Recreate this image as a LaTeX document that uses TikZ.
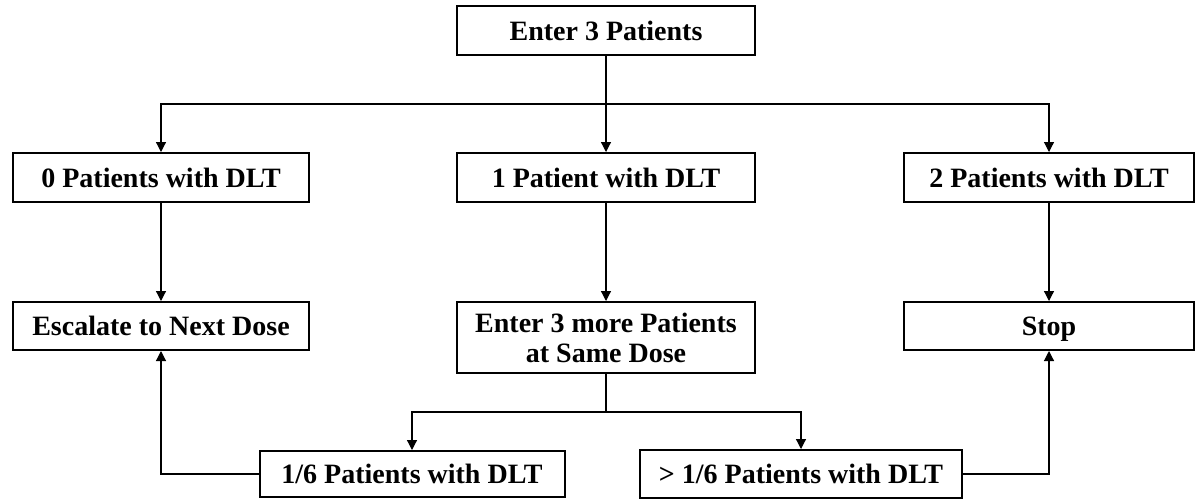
\documentclass[tikz,border=0pt]{standalone}
\usepackage{fontspec}
\setmainfont{Liberation Serif}
\usetikzlibrary{arrows.meta}

\begin{document}
\begin{tikzpicture}[x=.5pt,y=-.5pt,semithick,
    box/.style={draw,line width=1pt,minimum height=24.5pt,inner sep=0pt,align=center,font=\fontsize{14}{15}\selectfont\bfseries},
    onebox/.style={box,text height=9.5pt,text depth=0pt},
    link/.style={line width=.6pt,-{Triangle[length=5pt,width=5pt]}}]
    \useasboundingbox (0,0) rectangle (1195,500);
    \node[onebox,minimum width=149pt](enter) at (606,30.5){Enter 3 Patients};
    \node[onebox,minimum width=148pt](zero) at (161,177.5){0 Patients with DLT};
    \node[onebox,minimum width=149pt](one) at (606,177.5){1 Patient with DLT};
    \node[onebox,minimum width=145pt](two) at (1049,177.5){2 Patients with DLT};
    \node[onebox,minimum width=148pt,minimum height=24pt](esc) at (161,326){Escalate to Next Dose};
    \node[box,minimum width=149pt,minimum height=35.5pt](more) at (606,337.5){Enter 3 more Patients\\at Same Dose};
    \node[onebox,minimum width=145pt,minimum height=24pt](stop) at (1049,326){Stop};
    \node[onebox,minimum width=152.5pt,minimum height=23pt](low) at (412,474){1/6 Patients with DLT};
    \node[onebox,minimum width=161pt,minimum height=24pt](high) at (801,474){> 1/6 Patients with DLT};
    \coordinate (split) at (606,104);
    \coordinate (split2) at (606,412);
    \draw[link](enter.south)--(one.north);
    \draw[link](split)-|(zero.north);
    \draw[link](split)-|(two.north);
    \draw[link](zero.south)--(esc.north);
    \draw[link](one.south)--(more.north);
    \draw[link](two.south)--(stop.north);
    \draw[line width=.6pt](more.south)--(split2);
    \draw[link](split2)-|(low.north);
    \draw[link](split2)-|(high.north);
    \draw[link](low.west)-|(esc.south);
    \draw[link](high.east)-|(stop.south);
\end{tikzpicture}
\end{document}
